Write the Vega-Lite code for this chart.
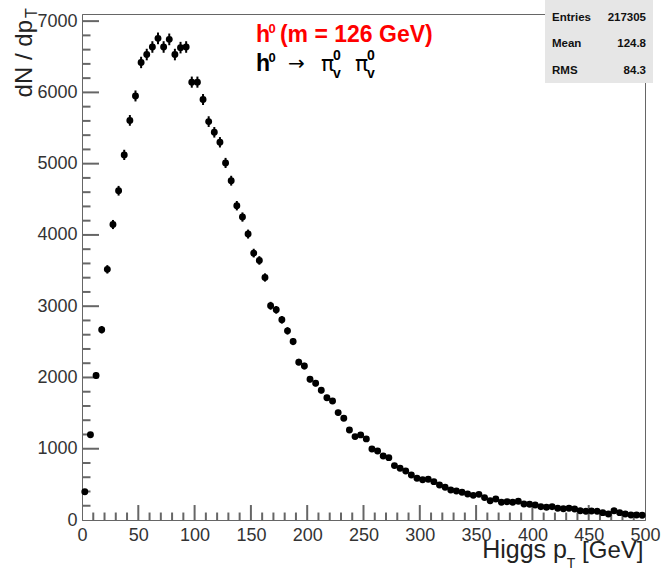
{
  "$schema": "https://vega.github.io/schema/vega-lite/v6.json",
  "width": 563,
  "height": 506,
  "autosize": {"type": "none"},
  "padding": {"left": 82, "top": 14, "right": 17, "bottom": 52},
  "background": "white",
  "config": {
    "view": {"stroke": "#666", "strokeWidth": 1},
    "font": "Liberation Sans",
    "axis": {"grid": false, "labelFont": "Liberation Sans", "labelColor": "#333", "labelFontSize": 18, "domainColor": "#666", "labelFlush": false, "labelOverlap": false}
  },
  "datasets": {
    "h": [
      {"pt": 2.5, "n": 397, "err": 20}, {"pt": 7.5, "n": 1195, "err": 35}, {"pt": 12.5, "n": 2027, "err": 45}, {"pt": 17.5, "n": 2670, "err": 52},
      {"pt": 22.5, "n": 3517, "err": 59}, {"pt": 27.5, "n": 4146, "err": 64}, {"pt": 32.5, "n": 4620, "err": 68}, {"pt": 37.5, "n": 5123, "err": 72},
      {"pt": 42.5, "n": 5607, "err": 75}, {"pt": 47.5, "n": 5950, "err": 77}, {"pt": 52.5, "n": 6420, "err": 80}, {"pt": 57.5, "n": 6531, "err": 81},
      {"pt": 62.5, "n": 6637, "err": 81}, {"pt": 67.5, "n": 6758, "err": 82}, {"pt": 72.5, "n": 6637, "err": 81}, {"pt": 77.5, "n": 6744, "err": 82},
      {"pt": 82.5, "n": 6531, "err": 81}, {"pt": 87.5, "n": 6628, "err": 81}, {"pt": 92.5, "n": 6637, "err": 81}, {"pt": 97.5, "n": 6144, "err": 78},
      {"pt": 102.5, "n": 6144, "err": 78}, {"pt": 107.5, "n": 5900, "err": 77}, {"pt": 112.5, "n": 5590, "err": 75}, {"pt": 117.5, "n": 5440, "err": 74},
      {"pt": 122.5, "n": 5300, "err": 73}, {"pt": 127.5, "n": 5010, "err": 71}, {"pt": 132.5, "n": 4761, "err": 69}, {"pt": 137.5, "n": 4410, "err": 66},
      {"pt": 142.5, "n": 4251, "err": 65}, {"pt": 147.5, "n": 4012, "err": 63}, {"pt": 152.5, "n": 3745, "err": 61}, {"pt": 157.5, "n": 3642, "err": 60},
      {"pt": 162.5, "n": 3403, "err": 58}, {"pt": 167.5, "n": 3006, "err": 55}, {"pt": 172.5, "n": 2949, "err": 54}, {"pt": 177.5, "n": 2809, "err": 53},
      {"pt": 182.5, "n": 2654, "err": 52}, {"pt": 187.5, "n": 2504, "err": 50}, {"pt": 192.5, "n": 2215, "err": 47}, {"pt": 197.5, "n": 2160, "err": 46},
      {"pt": 202.5, "n": 1976, "err": 44}, {"pt": 207.5, "n": 1920, "err": 44}, {"pt": 212.5, "n": 1820, "err": 43}, {"pt": 217.5, "n": 1715, "err": 41},
      {"pt": 222.5, "n": 1671, "err": 41}, {"pt": 227.5, "n": 1507, "err": 39}, {"pt": 232.5, "n": 1428, "err": 38}, {"pt": 237.5, "n": 1264, "err": 36},
      {"pt": 242.5, "n": 1170, "err": 34}, {"pt": 247.5, "n": 1194, "err": 35}, {"pt": 252.5, "n": 1138, "err": 34}, {"pt": 257.5, "n": 997, "err": 32},
      {"pt": 262.5, "n": 969, "err": 31}, {"pt": 267.5, "n": 899, "err": 30}, {"pt": 272.5, "n": 875, "err": 30}, {"pt": 277.5, "n": 763, "err": 28},
      {"pt": 282.5, "n": 726, "err": 27}, {"pt": 287.5, "n": 688, "err": 26}, {"pt": 292.5, "n": 632, "err": 25}, {"pt": 297.5, "n": 585, "err": 24},
      {"pt": 302.5, "n": 566, "err": 24}, {"pt": 307.5, "n": 571, "err": 24}, {"pt": 312.5, "n": 538, "err": 23}, {"pt": 317.5, "n": 492, "err": 22},
      {"pt": 322.5, "n": 459, "err": 21}, {"pt": 327.5, "n": 421, "err": 21}, {"pt": 332.5, "n": 407, "err": 20}, {"pt": 337.5, "n": 389, "err": 20},
      {"pt": 342.5, "n": 365, "err": 19}, {"pt": 347.5, "n": 346, "err": 19}, {"pt": 352.5, "n": 360, "err": 19}, {"pt": 357.5, "n": 314, "err": 18},
      {"pt": 362.5, "n": 271, "err": 16}, {"pt": 367.5, "n": 295, "err": 17}, {"pt": 372.5, "n": 248, "err": 16}, {"pt": 377.5, "n": 257, "err": 16},
      {"pt": 382.5, "n": 248, "err": 16}, {"pt": 387.5, "n": 262, "err": 16}, {"pt": 392.5, "n": 225, "err": 15}, {"pt": 397.5, "n": 220, "err": 15},
      {"pt": 402.5, "n": 211, "err": 15}, {"pt": 407.5, "n": 187, "err": 14}, {"pt": 412.5, "n": 178, "err": 13}, {"pt": 417.5, "n": 187, "err": 14},
      {"pt": 422.5, "n": 164, "err": 13}, {"pt": 427.5, "n": 159, "err": 13}, {"pt": 432.5, "n": 164, "err": 13}, {"pt": 437.5, "n": 154, "err": 12},
      {"pt": 442.5, "n": 131, "err": 11}, {"pt": 447.5, "n": 122, "err": 11}, {"pt": 452.5, "n": 126, "err": 11}, {"pt": 457.5, "n": 122, "err": 11},
      {"pt": 462.5, "n": 103, "err": 10}, {"pt": 467.5, "n": 84, "err": 9}, {"pt": 472.5, "n": 131, "err": 11}, {"pt": 477.5, "n": 103, "err": 10},
      {"pt": 482.5, "n": 84, "err": 9}, {"pt": 487.5, "n": 70, "err": 8}, {"pt": 492.5, "n": 70, "err": 8}, {"pt": 497.5, "n": 66, "err": 8}
    ]
  },
  "data": {"name": "h"},
  "resolve": {"axis": {"x": "independent", "y": "independent"}},
  "layer": [
    {
      "data": {"values": [{"xt": 50}, {"xt": 100}, {"xt": 150}, {"xt": 200}, {"xt": 250}, {"xt": 300}, {"xt": 350}, {"xt": 400}, {"xt": 450}]},
      "layer": [
        {
          "mark": {"type": "rule", "stroke": "#666", "strokeWidth": 2},
          "encoding": {
            "x": {"field": "xt", "type": "quantitative", "scale": {"domain": [0, 500], "nice": false, "zero": false}, "axis": null},
            "y": {"datum": 0, "type": "quantitative", "scale": {"domain": [0, 7100], "nice": false}, "axis": null},
            "y2": {"datum": 210}
          }
        }
      ]
    },
    {
      "data": {"values": [{"xm":10},{"xm":20},{"xm":30},{"xm":40},{"xm":60},{"xm":70},{"xm":80},{"xm":90},{"xm":110},{"xm":120},{"xm":130},{"xm":140},{"xm":160},{"xm":170},{"xm":180},{"xm":190},{"xm":210},{"xm":220},{"xm":230},{"xm":240},{"xm":260},{"xm":270},{"xm":280},{"xm":290},{"xm":310},{"xm":320},{"xm":330},{"xm":340},{"xm":360},{"xm":370},{"xm":380},{"xm":390},{"xm":410},{"xm":420},{"xm":430},{"xm":440},{"xm":460},{"xm":470},{"xm":480},{"xm":490}]},
      "layer": [
        {
          "mark": {"type": "rule", "stroke": "#666", "strokeWidth": 2},
          "encoding": {
            "x": {"field": "xm", "type": "quantitative", "scale": {"domain": [0, 500], "nice": false, "zero": false}, "axis": null},
            "y": {"datum": 0, "type": "quantitative", "scale": {"domain": [0, 7100], "nice": false}, "axis": null},
            "y2": {"datum": 105}
          }
        }
      ]
    },
    {
      "data": {"values": [{"yt": 1000}, {"yt": 2000}, {"yt": 3000}, {"yt": 4000}, {"yt": 5000}, {"yt": 6000}, {"yt": 7000}]},
      "layer": [
        {
          "mark": {"type": "rule", "stroke": "#666", "strokeWidth": 2},
          "encoding": {
            "y": {"field": "yt", "type": "quantitative", "scale": {"domain": [0, 7100], "nice": false}, "axis": null},
            "x": {"datum": 0, "type": "quantitative", "scale": {"domain": [0, 500], "nice": false, "zero": false}, "axis": null},
            "x2": {"datum": 15.1}
          }
        }
      ]
    },
    {
      "data": {"values": [{"ym":200},{"ym":400},{"ym":600},{"ym":800},{"ym":1200},{"ym":1400},{"ym":1600},{"ym":1800},{"ym":2200},{"ym":2400},{"ym":2600},{"ym":2800},{"ym":3200},{"ym":3400},{"ym":3600},{"ym":3800},{"ym":4200},{"ym":4400},{"ym":4600},{"ym":4800},{"ym":5200},{"ym":5400},{"ym":5600},{"ym":5800},{"ym":6200},{"ym":6400},{"ym":6600},{"ym":6800}]},
      "layer": [
        {
          "mark": {"type": "rule", "stroke": "#666", "strokeWidth": 2},
          "encoding": {
            "y": {"field": "ym", "type": "quantitative", "scale": {"domain": [0, 7100], "nice": false}, "axis": null},
            "x": {"datum": 0, "type": "quantitative", "scale": {"domain": [0, 500], "nice": false, "zero": false}, "axis": null},
            "x2": {"datum": 7.55}
          }
        }
      ]
    },
    {
      "mark": {"type": "errorbar", "ticks": false, "color": "black", "thickness": 2},
      "encoding": {
        "x": {"field": "pt", "type": "quantitative", "scale": {"domain": [0, 500], "nice": false, "zero": false}, "axis": null},
        "y": {"field": "n", "type": "quantitative", "scale": {"domain": [0, 7100], "nice": false}, "axis": null},
        "yError": {"field": "err"}
      }
    },
    {
      "mark": {"type": "circle", "color": "black", "opacity": 1, "size": 48},
      "encoding": {
        "x": {"field": "pt", "type": "quantitative", "scale": {"domain": [0, 500], "nice": false, "zero": false},
              "axis": {"orient": "bottom", "title": null, "values": [0, 50, 100, 150, 200, 250, 300, 350, 400, 450, 500], "ticks": false, "tickSize": 0, "labelPadding": 6, "format": "d"}},
        "y": {"field": "n", "type": "quantitative", "scale": {"domain": [0, 7100], "nice": false},
              "axis": {"orient": "left", "title": null, "values": [0, 1000, 2000, 3000, 4000, 5000, 6000, 7000], "ticks": false, "tickSize": 0, "labelPadding": 5, "format": "d"}}
      }
    },
    {
      "data": {"values": [{}]},
      "mark": {"type": "rect", "fill": "#e6e6e6", "stroke": null},
      "encoding": {
        "x": {"datum": 411.2, "type": "quantitative", "scale": {"domain": [0, 500], "nice": false, "zero": false}, "axis": null},
        "x2": {"datum": 507.1},
        "y": {"datum": 7296, "type": "quantitative", "scale": {"domain": [0, 7100], "nice": false}, "axis": null},
        "y2": {"datum": 6132}
      }
    },
    {
      "data": {"values": [{"k": "Entries", "v": "217305", "row": 7006}, {"k": "Mean", "v": "124.8", "row": 6637}, {"k": "RMS", "v": "84.3", "row": 6258}]},
      "layer": [
        {
          "mark": {"type": "text", "align": "left", "baseline": "alphabetic", "fontWeight": "bold", "fontSize": 11.5, "color": "#111"},
          "encoding": {
            "x": {"datum": 417.4, "type": "quantitative", "scale": {"domain": [0, 500], "nice": false, "zero": false}, "axis": null},
            "y": {"field": "row", "type": "quantitative", "scale": {"domain": [0, 7100], "nice": false}, "axis": null},
            "text": {"field": "k"}
          }
        },
        {
          "mark": {"type": "text", "align": "right", "baseline": "alphabetic", "fontWeight": "bold", "fontSize": 11.5, "color": "#111"},
          "encoding": {
            "x": {"datum": 500.9, "type": "quantitative", "scale": {"domain": [0, 500], "nice": false, "zero": false}, "axis": null},
            "y": {"field": "row", "type": "quantitative", "scale": {"domain": [0, 7100], "nice": false}, "axis": null},
            "text": {"field": "v"}
          }
        }
      ]
    },
    {
      "data": {"values": [{}]},
      "mark": {"type": "text", "text": "h", "align": "left", "baseline": "alphabetic", "fontWeight": "bold", "fontSize": 23, "color": "#ff0000"},
      "encoding": {
        "x": {"datum": 154.5, "type": "quantitative", "scale": {"domain": [0, 500], "nice": false, "zero": false}, "axis": null},
        "y": {"datum": 6703, "type": "quantitative", "scale": {"domain": [0, 7100], "nice": false}, "axis": null}
      }
    },
    {
      "data": {"values": [{}]},
      "mark": {"type": "text", "text": "0", "align": "left", "baseline": "alphabetic", "fontWeight": "bold", "fontSize": 13, "color": "#ff0000"},
      "encoding": {
        "x": {"datum": 165.6, "type": "quantitative", "scale": {"domain": [0, 500], "nice": false, "zero": false}, "axis": null},
        "y": {"datum": 6833, "type": "quantitative", "scale": {"domain": [0, 7100], "nice": false}, "axis": null}
      }
    },
    {
      "data": {"values": [{}]},
      "mark": {"type": "text", "text": "(m = 126 GeV)", "align": "left", "baseline": "alphabetic", "fontWeight": "bold", "fontSize": 23, "color": "#ff0000"},
      "encoding": {
        "x": {"datum": 175.8, "type": "quantitative", "scale": {"domain": [0, 500], "nice": false, "zero": false}, "axis": null},
        "y": {"datum": 6703, "type": "quantitative", "scale": {"domain": [0, 7100], "nice": false}, "axis": null}
      }
    },
    {
      "data": {"values": [{}]},
      "mark": {"type": "text", "text": "h", "align": "left", "baseline": "alphabetic", "fontWeight": "bold", "fontSize": 23, "color": "black"},
      "encoding": {
        "x": {"datum": 154.5, "type": "quantitative", "scale": {"domain": [0, 500], "nice": false, "zero": false}, "axis": null},
        "y": {"datum": 6300, "type": "quantitative", "scale": {"domain": [0, 7100], "nice": false}, "axis": null}
      }
    },
    {
      "data": {"values": [{}]},
      "mark": {"type": "text", "text": "0", "align": "left", "baseline": "alphabetic", "fontWeight": "bold", "fontSize": 13, "color": "black"},
      "encoding": {
        "x": {"datum": 165.6, "type": "quantitative", "scale": {"domain": [0, 500], "nice": false, "zero": false}, "axis": null},
        "y": {"datum": 6433, "type": "quantitative", "scale": {"domain": [0, 7100], "nice": false}, "axis": null}
      }
    },
    {
      "data": {"values": [{}]},
      "mark": {"type": "text", "text": "→", "align": "left", "baseline": "alphabetic", "fontSize": 20, "font": "DejaVu Sans", "color": "black"},
      "encoding": {
        "x": {"datum": 183, "type": "quantitative", "scale": {"domain": [0, 500], "nice": false, "zero": false}, "axis": null},
        "y": {"datum": 6314, "type": "quantitative", "scale": {"domain": [0, 7100], "nice": false}, "axis": null}
      }
    },
    {
      "data": {"values": [{"sx": 212.3}, {"sx": 242.5}]},
      "layer": [
        {
          "mark": {"type": "text", "text": "π", "align": "left", "baseline": "alphabetic", "fontSize": 22, "font": "DejaVu Sans", "color": "black"},
          "encoding": {
            "x": {"field": "sx", "type": "quantitative", "scale": {"domain": [0, 500], "nice": false, "zero": false}, "axis": null},
            "y": {"datum": 6300, "type": "quantitative", "scale": {"domain": [0, 7100], "nice": false}, "axis": null}
          }
        },
        {
          "mark": {"type": "text", "text": "0", "align": "left", "baseline": "alphabetic", "fontSize": 14, "fontWeight": "bold", "dx": 12, "color": "black"},
          "encoding": {
            "x": {"field": "sx", "type": "quantitative", "scale": {"domain": [0, 500], "nice": false, "zero": false}, "axis": null},
            "y": {"datum": 6455, "type": "quantitative", "scale": {"domain": [0, 7100], "nice": false}, "axis": null}
          }
        },
        {
          "mark": {"type": "text", "text": "v", "align": "left", "baseline": "alphabetic", "fontSize": 14, "fontWeight": "bold", "dx": 12, "color": "black"},
          "encoding": {
            "x": {"field": "sx", "type": "quantitative", "scale": {"domain": [0, 500], "nice": false, "zero": false}, "axis": null},
            "y": {"datum": 6202, "type": "quantitative", "scale": {"domain": [0, 7100], "nice": false}, "axis": null}
          }
        }
      ]
    },
    {
      "data": {"values": [{}]},
      "mark": {"type": "text", "text": "Higgs p", "align": "right", "baseline": "alphabetic", "fontSize": 25, "color": "#222"},
      "encoding": {
        "x": {"datum": 430.7, "type": "quantitative", "scale": {"domain": [0, 500], "nice": false, "zero": false}, "axis": null},
        "y": {"datum": -533, "type": "quantitative", "scale": {"domain": [0, 7100], "nice": false}, "axis": null}
      }
    },
    {
      "data": {"values": [{}]},
      "mark": {"type": "text", "text": "T", "align": "left", "baseline": "alphabetic", "fontSize": 14, "color": "#222"},
      "encoding": {
        "x": {"datum": 430.6, "type": "quantitative", "scale": {"domain": [0, 500], "nice": false, "zero": false}, "axis": null},
        "y": {"datum": -674, "type": "quantitative", "scale": {"domain": [0, 7100], "nice": false}, "axis": null}
      }
    },
    {
      "data": {"values": [{}]},
      "mark": {"type": "text", "text": "[GeV]", "align": "left", "baseline": "alphabetic", "fontSize": 24, "color": "#222"},
      "encoding": {
        "x": {"datum": 444.1, "type": "quantitative", "scale": {"domain": [0, 500], "nice": false, "zero": false}, "axis": null},
        "y": {"datum": -533, "type": "quantitative", "scale": {"domain": [0, 7100], "nice": false}, "axis": null}
      }
    },
    {
      "data": {"values": [{}]},
      "mark": {"type": "text", "text": "dN / dp", "angle": 270, "align": "right", "baseline": "alphabetic", "fontSize": 24, "color": "#222"},
      "encoding": {
        "x": {"datum": -44.4, "type": "quantitative", "scale": {"domain": [0, 500], "nice": false, "zero": false}, "axis": null},
        "y": {"datum": 7016, "type": "quantitative", "scale": {"domain": [0, 7100], "nice": false}, "axis": null}
      }
    },
    {
      "data": {"values": [{}]},
      "mark": {"type": "text", "text": "T", "angle": 270, "align": "left", "baseline": "alphabetic", "fontSize": 16, "color": "#222"},
      "encoding": {
        "x": {"datum": -40, "type": "quantitative", "scale": {"domain": [0, 500], "nice": false, "zero": false}, "axis": null},
        "y": {"datum": 7044, "type": "quantitative", "scale": {"domain": [0, 7100], "nice": false}, "axis": null}
      }
    }
  ]
}
